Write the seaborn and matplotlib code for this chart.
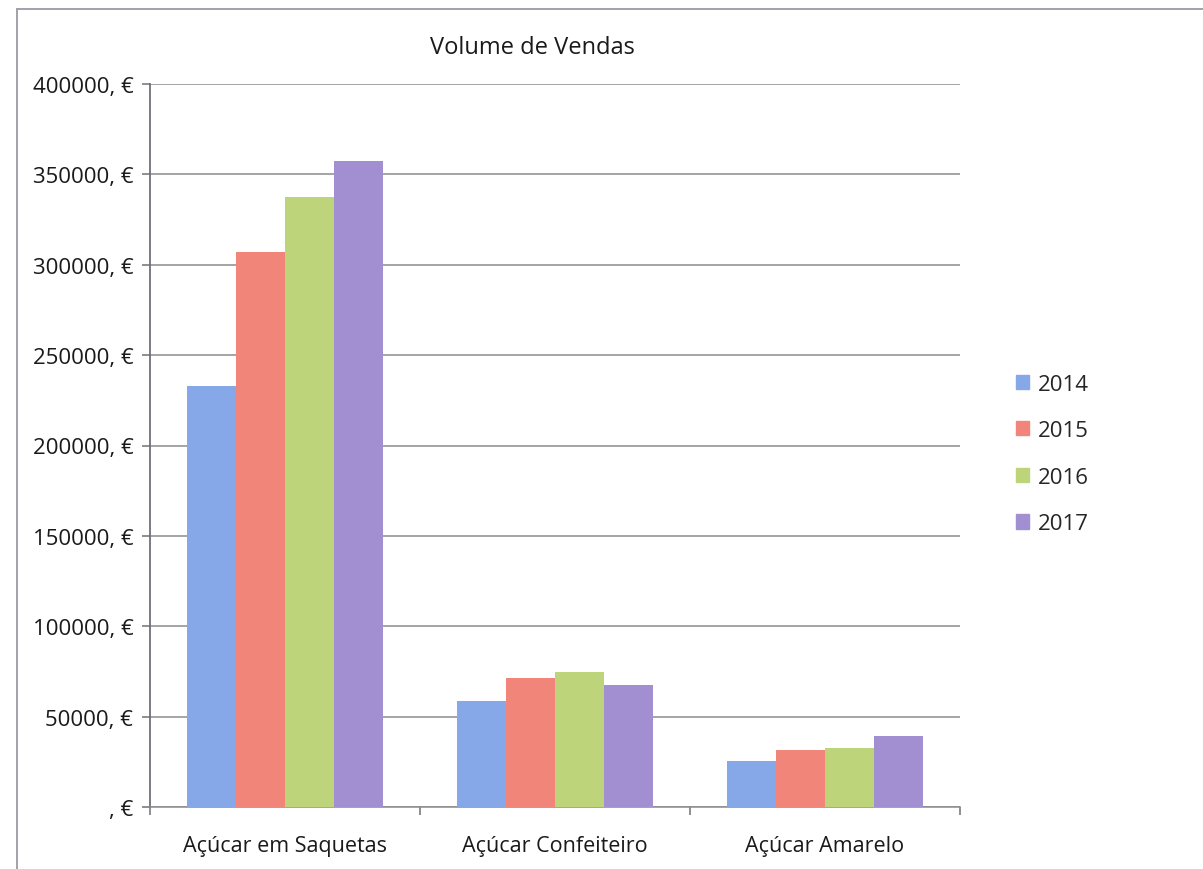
import matplotlib
matplotlib.use("Agg")
import matplotlib.pyplot as plt
from matplotlib.lines import Line2D
from matplotlib.ticker import FixedLocator, FuncFormatter
import pandas as pd
import seaborn as sns

# Sales volume per product and year (EUR)
products = ["Açúcar em Saquetas", "Açúcar Confeiteiro", "Açúcar Amarelo"]
years = ["2014", "2015", "2016", "2017"]
sales_2014 = [233000, 58500, 25200]
sales_2015 = [307000, 71300, 31700]
sales_2016 = [337400, 74600, 32400]
sales_2017 = [357600, 67600, 39400]
colors = ["#86A8E8", "#F2857A", "#BDD47B", "#A28FD2"]
y_ticks = [0, 50000, 100000, 150000, 200000, 250000, 300000, 350000, 400000]

rows = []
for year, vals in zip(years, [sales_2014, sales_2015, sales_2016, sales_2017]):
    for prod, v in zip(products, vals):
        rows.append({"Produto": prod, "Ano": year, "Vendas": v})
df = pd.DataFrame(rows)

sns.set_theme(style="white")
plt.rcParams["font.family"] = ["Open Sans", "DejaVu Sans"]

fig = plt.figure(figsize=(12.03, 8.70), dpi=100)
ax = fig.add_axes([150 / 1203, 1 - 808 / 870, (960 - 150) / 1203, (808 - 85) / 870])

sns.barplot(data=df, x="Produto", y="Vendas", hue="Ano", order=products,
            hue_order=years, palette=colors, width=0.725, saturation=1,
            errorbar=None, ax=ax, linewidth=0, zorder=3)

ax.set_ylim(0, 400000)
ax.set_xlim(-0.5, 2.5)
ax.yaxis.set_major_locator(FixedLocator(y_ticks))
ax.yaxis.set_major_formatter(FuncFormatter(lambda v, p: ", €" if v == 0 else f"{v:.0f}, €"))
ax.grid(axis="y", color="#8c8c8c", linewidth=1.1, zorder=0)
ax.set_axisbelow(True)

for side in ["top", "right"]:
    ax.spines[side].set_visible(False)
ax.spines["left"].set_color("#6f6f78")
ax.spines["left"].set_linewidth(1.3)
ax.spines["bottom"].set_color("#8c8c8c")
ax.spines["bottom"].set_linewidth(1.1)

ax.tick_params(axis="y", which="major", direction="out", length=6, width=1.1,
               color="#6f6f78", labelsize=16, pad=6, left=True, labelcolor="#1a1a1a")
ax.tick_params(axis="x", which="major", length=0, labelsize=15.5, pad=20, labelcolor="#1a1a1a")
ax.set_xticks([-0.5, 0.5, 1.5, 2.5], minor=True)
ax.tick_params(axis="x", which="minor", direction="out", length=6, width=1.1,
               color="#6f6f78", bottom=True)
ax.set_xlabel("")
ax.set_ylabel("")
if ax.get_legend():
    ax.get_legend().remove()

fig.text(532 / 1203, 1 - 48 / 870, "Volume de Vendas", ha="center", va="center",
         fontsize=17, color="#1a1a1a")

handles = [plt.Rectangle((0, 0), 1, 1, color=c) for c in colors]
fig.legend(handles, years, loc="center left", bbox_to_anchor=(996 / 1203, 1 - 455 / 870),
           frameon=False, fontsize=16, handlelength=0.6, handleheight=0.6,
           handletextpad=0.4, labelspacing=1.15)

# chart frame
fig.add_artist(Line2D([17 / 1203, 1], [1 - 10 / 870, 1 - 10 / 870], transform=fig.transFigure,
                      color="#9a9aa6", linewidth=1.3))
fig.add_artist(Line2D([17 / 1203, 17 / 1203], [0, 1 - 10 / 870], transform=fig.transFigure,
                      color="#9a9aa6", linewidth=1.3))

fig.savefig("out.png", dpi=100, facecolor="white")
